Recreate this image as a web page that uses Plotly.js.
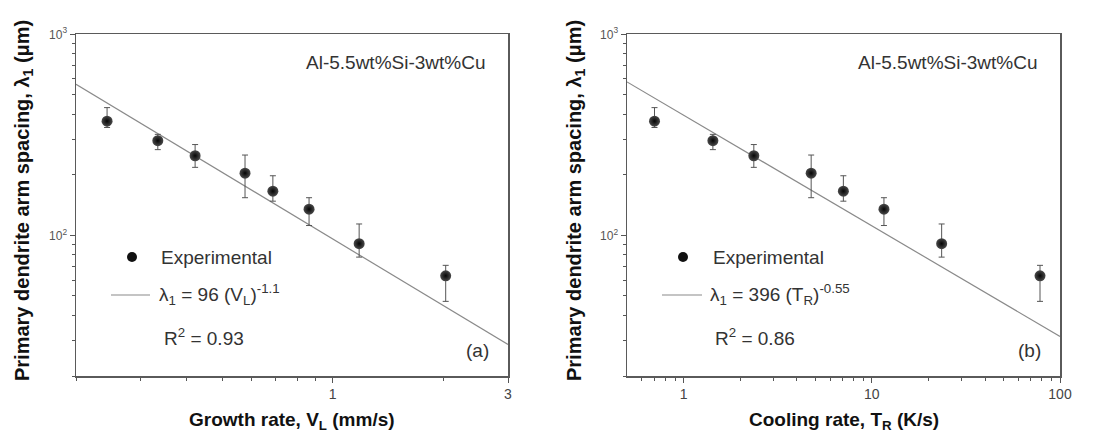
<!DOCTYPE html>
<html>
<head>
<meta charset="utf-8">
<script src="https://cdn.plot.ly/plotly-3.0.1.min.js"></script>
<style>
  html, body { margin: 0; padding: 0; background: #fff; }
  #chart { width: 1115px; height: 443px; }
</style>
</head>
<body>
<div id="chart"></div>
<script>
// Primary dendrite arm spacing versus growth rate and cooling rate
const growthRate = [0.243, 0.334, 0.422, 0.577, 0.687, 0.862, 1.18, 2.03];   // V_L, mm/s
const coolingRate = [0.70, 1.43, 2.36, 4.76, 7.06, 11.6, 23.5, 78.3];        // T_R, K/s
const armSpacing = [370, 296, 249, 204, 166, 135, 91, 63];                    // lambda_1, um
const errUp = [62, 22, 34, 47, 32, 19, 23, 8];
const errDown = [26, 29, 31, 50, 18, 23, 13, 16];

// Power-law fits lambda_1 = C * x^n
const fitCoef = [96, 396];
const fitExp = [-1.1, -0.55];
const fitR2 = ['0.93', '0.86'];
const fitVar = ['V<sub>L</sub>', 'T<sub>R</sub>'];
const panelTag = ['(a)', '(b)'];
const alloy = 'Al-5.5wt%Si-3wt%Cu';

const xRanges = [[0.2, 3], [0.5, 100]];
const yRange = [20, 1000];
const xMajor = [[1, 3], [1, 10, 100]];
const xMinor = [[0.2, 0.3, 0.4, 0.5, 0.6, 0.7, 0.8, 0.9, 2],
                [0.6, 0.7, 0.8, 0.9, 2, 3, 4, 5, 6, 7, 8, 9, 20, 30, 40, 50, 60, 70, 80, 90]];
const yMajor = [100, 1000];
const yMajorText = ['10<sup>2</sup>', '10<sup>3</sup>'];
const yMinor = [20, 30, 40, 50, 60, 70, 80, 90, 200, 300, 400, 500, 600, 700, 800, 900];
const xTitles = ['Growth rate, V<sub>L</sub> (mm/s)', 'Cooling rate, T<sub>R</sub> (K/s)'];
const yTitle = 'Primary dendrite arm spacing, \u03bb<sub>1</sub> (\u03bcm)';

const W = 1115, H = 443;
const FONT = 'Liberation Sans, Arial, Helvetica, sans-serif';
const px = x => x / W;
const py = y => (H - y) / H;

// panel frames in pixels: [left, right]
const panels = [[76, 508], [627, 1060]];
const frameTop = 34.3, frameBottom = 376;

const traces = [];
const annotations = [];
const shapes = [];
const layout = {
  width: W, height: H,
  margin: {l: 0, r: 0, t: 0, b: 0},
  paper_bgcolor: '#fff', plot_bgcolor: '#fff',
  showlegend: false,
  font: {family: FONT, color: '#333'},
  annotations: annotations,
  shapes: shapes
};

const xData = [growthRate, coolingRate];

for (let p = 0; p < 2; p++) {
  const xa = p === 0 ? 'x' : 'x2';
  const ya = p === 0 ? 'y' : 'y2';
  const [L, R] = panels[p];
  const axisCommon = {
    type: 'log',
    showgrid: false, zeroline: false,
    showline: true, linecolor: '#5a5a5a', linewidth: 1.5, mirror: true,
    ticks: 'outside', ticklen: 5, tickwidth: 1, tickcolor: '#555',
    tickfont: {family: FONT, size: 14, color: '#444'}
  };
  layout[p === 0 ? 'xaxis' : 'xaxis2'] = Object.assign({}, axisCommon, {
    domain: [px(L), px(R)],
    anchor: ya,
    range: xRanges[p].map(Math.log10),
    tickmode: 'array', tickvals: xMajor[p], ticktext: xMajor[p].map(String),
    minor: {tickmode: 'array', tickvals: xMinor[p], ticks: 'outside', ticklen: 3, tickwidth: 1, tickcolor: '#555'}
  });
  layout[p === 0 ? 'yaxis' : 'yaxis2'] = Object.assign({}, axisCommon, {
    domain: [py(frameBottom), py(frameTop)],
    anchor: xa,
    range: yRange.map(Math.log10),
    tickmode: 'array', tickvals: yMajor, ticktext: yMajorText,
    tickfont: {family: FONT, size: 12, color: '#555'},
    minor: {tickmode: 'array', tickvals: yMinor, ticks: 'outside', ticklen: 3, tickwidth: 1, tickcolor: '#555'}
  });

  // fitted power law across the axis span
  const fx = xRanges[p];
  traces.push({
    type: 'scatter', mode: 'lines', xaxis: xa, yaxis: ya,
    x: fx, y: fx.map(v => fitCoef[p] * Math.pow(v, fitExp[p])),
    line: {color: '#8a8a8a', width: 1.2},
    hoverinfo: 'skip'
  });

  // measured spacings with error bars
  traces.push({
    type: 'scatter', mode: 'markers', xaxis: xa, yaxis: ya,
    x: xData[p], y: armSpacing,
    marker: {size: 11, color: '#4a4a4a', gradient: {type: 'radial', color: '#050505'}},
    error_y: {type: 'data', symmetric: false, array: errUp, arrayminus: errDown,
              color: '#555', thickness: 1, width: 3}
  });

  // alloy label and panel tag
  annotations.push({
    xref: 'paper', yref: 'paper', x: px(R - 20), y: py(62),
    xanchor: 'right', yanchor: 'middle', showarrow: false,
    text: alloy, font: {family: FONT, size: 19, color: '#333'}
  });
  annotations.push({
    xref: 'paper', yref: 'paper', x: px(R - 31), y: py(350),
    xanchor: 'center', yanchor: 'middle', showarrow: false,
    text: panelTag[p], font: {family: FONT, size: 19, color: '#333'}
  });

  // key: marker, fit line, R^2
  const k = p === 0 ? {m: 132, t1: 159, l0: 111, l1: 150, t2: 157, t3: 162}
                    : {m: 683, t1: 711, l0: 662, l1: 702, t2: 708, t3: 713};
  shapes.push({
    type: 'circle', xref: 'paper', yref: 'paper',
    x0: px(k.m - 5), x1: px(k.m + 5), y0: py(257 + 5), y1: py(257 - 5),
    fillcolor: '#111', line: {width: 0}
  });
  annotations.push({
    xref: 'paper', yref: 'paper', x: px(k.t1), y: py(257),
    xanchor: 'left', yanchor: 'middle', showarrow: false,
    text: 'Experimental', font: {family: FONT, size: 19, color: '#333'}
  });
  shapes.push({
    type: 'line', xref: 'paper', yref: 'paper',
    x0: px(k.l0), x1: px(k.l1), y0: py(295), y1: py(295),
    line: {color: '#8a8a8a', width: 1.2}
  });
  annotations.push({
    xref: 'paper', yref: 'paper', x: px(k.t2), y: py(294),
    xanchor: 'left', yanchor: 'middle', showarrow: false,
    text: '\u03bb<sub>1</sub> = ' + fitCoef[p] + ' (' + fitVar[p] + ')<sup>' + fitExp[p] + '</sup>',
    font: {family: FONT, size: 19, color: '#333'}
  });
  annotations.push({
    xref: 'paper', yref: 'paper', x: px(k.t3), y: py(337),
    xanchor: 'left', yanchor: 'middle', showarrow: false,
    text: 'R<sup>2</sup> = ' + fitR2[p], font: {family: FONT, size: 19, color: '#333'}
  });

  // axis titles
  annotations.push({
    xref: 'paper', yref: 'paper', x: px((L + R) / 2), y: py(421),
    xanchor: 'center', yanchor: 'middle', showarrow: false,
    text: '<b>' + xTitles[p] + '</b>', font: {family: FONT, size: 19, color: '#111'}
  });
  annotations.push({
    xref: 'paper', yref: 'paper', x: px(p === 0 ? 23 : 575), y: py(201),
    xanchor: 'center', yanchor: 'middle', showarrow: false, textangle: -90,
    text: '<b>' + yTitle + '</b>', font: {family: FONT, size: 20, color: '#111'}
  });
}

Plotly.newPlot('chart', traces, layout, {staticPlot: true, displayModeBar: false});
</script>
</body>
</html>
